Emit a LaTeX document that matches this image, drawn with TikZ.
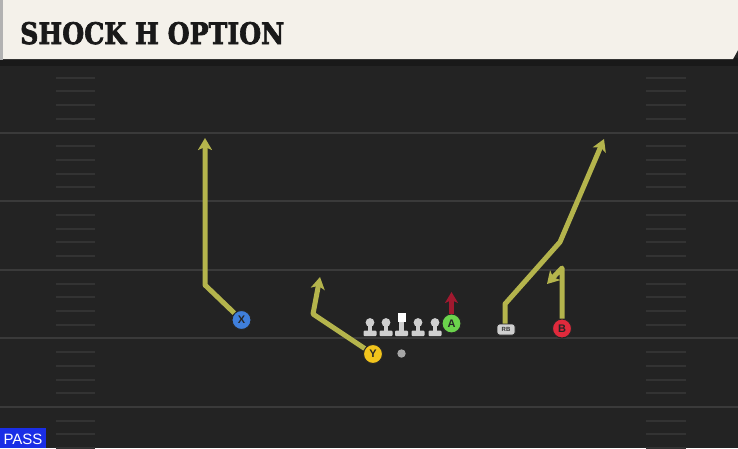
\documentclass[tikz,border=0pt]{standalone}
\usepackage{fontspec}
\usepackage{graphicx}
\usetikzlibrary{arrows.meta}
\newfontfamily\titlefont{DejaVu Serif}[UprightFont={* Bold}, FakeBold=2.5]
\newfontfamily\labelfont{Liberation Sans}
\definecolor{field}{HTML}{232323}
\definecolor{fieldline}{HTML}{3A3A3A}
\definecolor{hashcol}{HTML}{333333}
\definecolor{header}{HTML}{F4F1EA}
\definecolor{routecol}{HTML}{B4B44C}
\definecolor{xblue}{HTML}{3F7FDC}
\definecolor{yyellow}{HTML}{F2C41C}
\definecolor{agreen}{HTML}{6BD44C}
\definecolor{bred}{HTML}{E02A3C}
\definecolor{blockred}{HTML}{A0192F}
\definecolor{olgray}{HTML}{CFCFCF}
\definecolor{passblue}{HTML}{1A2EE6}
\tikzset{
  player/.style={circle, draw=black!85, line width=1pt, minimum size=19pt, inner sep=0pt,
    font=\labelfont\bfseries\fontsize{11}{11}\selectfont, text=black!85},
  route/.style={draw=routecol, line width=5pt, line join=round, -{Stealth[length=12pt,width=14pt,inset=3pt]}},
  hash/.style={draw=hashcol, line width=2pt}
}
\begin{document}
\begin{tikzpicture}[x=1pt,y=-1pt]
\useasboundingbox (0,0) rectangle (738,448);
\fill[field] (0,0) rectangle (738,448);

% yard lines and hash marks
\foreach \k in {0,...,5}{
  \draw[fieldline, line width=2pt] (0,64+68.6*\k) -- (738,64+68.6*\k);
  \foreach \h in {1,...,4}{
    \draw[hash] (56,64+68.6*\k+13.72*\h) -- (95,64+68.6*\k+13.72*\h);
    \draw[hash] (646,64+68.6*\k+13.72*\h) -- (686,64+68.6*\k+13.72*\h);
  }
}

% header
\fill[black!90] (0,58) rectangle (738,66);
\fill[gray!60] (0,0) rectangle (3,60);
\fill[header] (3,0) -- (738,0) -- (738,50) -- (733,59) -- (3,59) -- cycle;
\node[anchor=base west, inner sep=0pt, text=black!90] (title) at (20,44)
  {\resizebox{264pt}{22pt}{\titlefont SHOCK H OPTION}};

% offensive line
\foreach \lx in {370,386,418,435}{
  \fill[olgray] (\lx,322.5) circle (4.4);
  \fill[olgray] (\lx-2.2,324) rectangle (\lx+2.2,332);
  \fill[olgray, rounded corners=1pt] (\lx-6.5,330.5) rectangle (\lx+6.5,336);
}
\fill[white] (397.5,313) rectangle (405.5,322);
\fill[olgray] (399.3,322) rectangle (403.7,332);
\fill[olgray, rounded corners=1pt] (395,330.5) rectangle (408,336);
\fill[gray!70] (401.5,353.5) circle (4.2);

% players
\node[player, fill=xblue] (X) at (241.5,320) {X};
\node[player, fill=yyellow] (Y) at (373,354) {Y};
\node[player, fill=agreen] (A) at (451.5,323.5) {A};
\node[player, fill=bred] (B) at (562,328.5) {B};
\node[rounded corners=2.5pt, draw=black!85, line width=0.8pt, fill=olgray, minimum width=18pt, minimum height=11pt,
  inner sep=0pt, font=\labelfont\bfseries\fontsize{6}{6}\selectfont, text=black!80] (RB) at (506,329.5) {RB};

% routes
\draw[route] (X) -- (205,285) -- (205,138);
\draw[route] (Y) -- (313,314) -- (320,277);
\draw[route] (RB.north -| 505,0) -- (505,304) -- (560,242) -- (604,139);
\draw[route] (B) -- (562,268) -- (547,284);
\draw[draw=blockred, line width=4.4pt, -{Stealth[length=11pt,width=13pt,inset=3pt]}] (A) -- (451.5,292);

% play type
\fill[passblue] (0,428) rectangle (46,448);
\node[text=white, font=\labelfont\fontsize{15}{15}\selectfont, inner sep=0pt] (pass) at (23,439) {PASS};
\end{tikzpicture}
\end{document}
